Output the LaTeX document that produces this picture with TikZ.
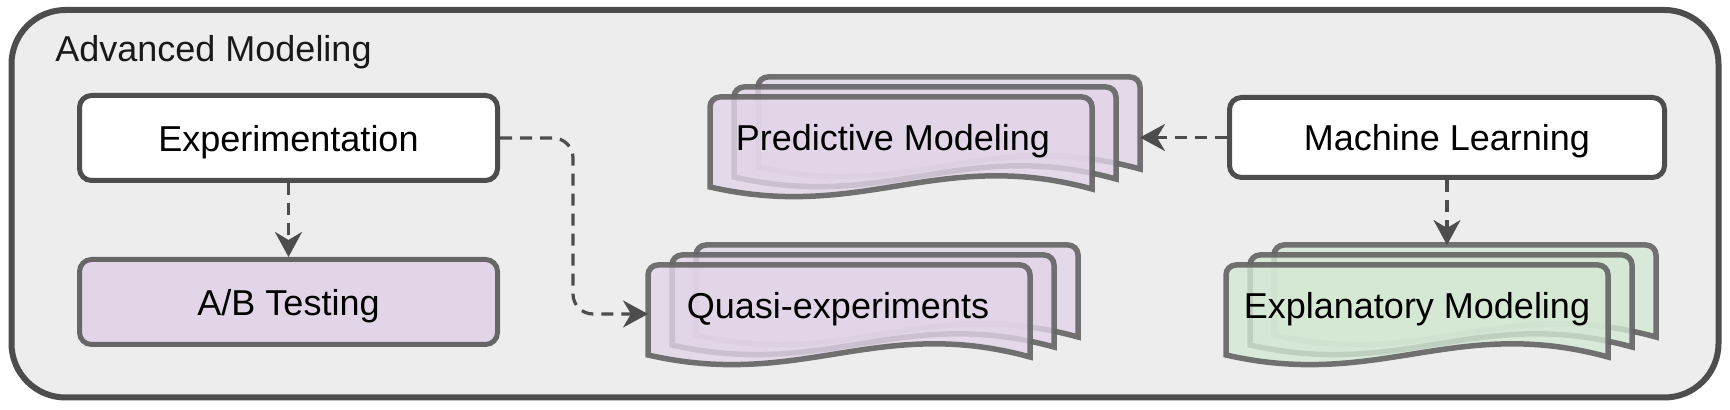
\documentclass[tikz,border=0pt]{standalone}
\usepackage{fontspec}
\setmainfont{Liberation Sans}
\usetikzlibrary{arrows.meta}
\definecolor{bgc}{HTML}{EDEDED}
\definecolor{edge}{HTML}{4D4D4D}
\definecolor{lgray}{HTML}{666666}
\definecolor{purp}{HTML}{E1D5E7}
\definecolor{grn}{HTML}{D5E8D4}
\newcommand\docstack[3]{%
 \foreach \dx/\dy in {48/-20,24/-10,0/0}{
  \path[draw=lgray, fill=#3, line width=2.75pt, draw opacity=0.92, fill opacity=0.8]
   ({#1+\dx},{#2+\dy+90}) [rounded corners=5pt] -- ({#1+\dx},{#2+\dy}) -- ({#1+\dx+382},{#2+\dy}) [sharp corners] -- ({#1+\dx+382},{#2+\dy+92}) .. controls ({#1+\dx+229},{#2+\dy+50}) and ({#1+\dx+153},{#2+\dy+125}) .. ({#1+\dx},{#2+\dy+90}) -- cycle;
 }}
\tikzset{
 lbl/.style={font=\fontsize{18}{21}\selectfont, text=black, inner sep=0pt, text depth=0pt},
 box/.style={lbl, draw=edge, line width=2.5pt, rounded corners=6pt, fill=white, minimum width=209pt, minimum height=42.5pt},
 conn/.style={draw=edge, line width=1.6pt, dash pattern=on 6pt off 4pt, -{Stealth[length=12.5pt,width=13.5pt,inset=4pt]}},
}
\begin{document}
\begin{tikzpicture}[x=0.5pt, y=-0.5pt]
\useasboundingbox (0,0) rectangle (1730,410);
\node[draw=edge, fill=bgc, line width=3pt, rounded corners=27pt, minimum width=853.5pt, minimum height=193.75pt, inner sep=0pt] (cont) at (865,203.75) {};
\node[lbl, text=black!90, anchor=base west] (title) at (55,62) {Advanced Modeling};
\node[box] (exp) at (288.5,138) {Experimentation};
\node[box, fill=purp, draw=lgray] (ab) at (288.5,302) {A/B Testing};
\node[box, minimum width=217.5pt, minimum height=40pt] (ml) at (1447,137.5) {Machine Learning};
\docstack{710}{97}{purp}
\docstack{648}{265}{purp}
\docstack{1226}{265}{grn}
\node[lbl] (pred) at (893,137) {Predictive Modeling};
\node[lbl] (quasi) at (838,305) {Quasi-experiments};
\node[lbl] (expl) at (1417,305) {Explanatory Modeling};
\coordinate (qin) at (648,314);
\coordinate (pin) at (1140,137.5);
\coordinate (ein) at (1447,245);
\draw[conn] (exp.south) -- (ab.north);
\draw[conn, rounded corners=10pt] (exp.east) -- ++(73,0) |- (qin);
\draw[conn] (ml.west) -- (pin);
\draw[conn] (ml.south) -- (ein);
\end{tikzpicture}
\end{document}
